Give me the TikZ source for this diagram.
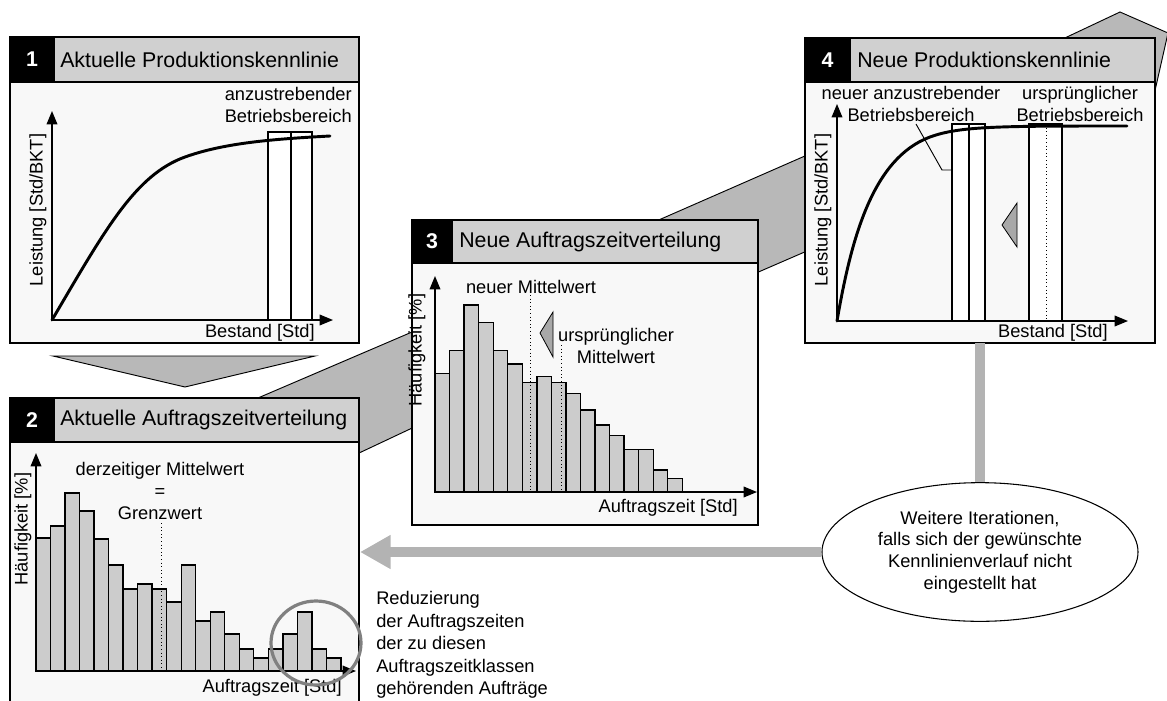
\documentclass[tikz,border=0pt]{standalone}
\usepackage{fontspec}
\setmainfont{Liberation Sans}
\usetikzlibrary{arrows.meta,shapes.geometric}

\definecolor{bodygray}{HTML}{F8F8F8}
\definecolor{headgray}{HTML}{D0D0D0}
\definecolor{bargray}{HTML}{CCCCCC}
\definecolor{bandgray}{HTML}{B8B8B8}
\definecolor{flowgray}{HTML}{B3B3B3}
\definecolor{markgray}{HTML}{A8A8A8}
\definecolor{ringgray}{HTML}{808080}

\begin{document}
\begin{tikzpicture}[x=0.75pt,y=-0.75pt,
  panelbody/.style={draw=black,line width=1.1pt,fill=bodygray},
  header/.style={draw=black,line width=1.1pt,fill=headgray},
  numbox/.style={draw=black,line width=1.1pt,fill=black},
  numtext/.style={text=white,inner sep=0pt,font=\fontsize{16}{18}\selectfont\bfseries},
  titletext/.style={anchor=west,inner sep=0pt,font=\fontsize{16}{18}\selectfont},
  lbl/.style={inner sep=0pt,font=\fontsize{13.7}{16.5}\selectfont},
  axis/.style={line width=1pt,-{Triangle[length=10pt,width=8pt]}},
  bar/.style={draw=black,line width=1pt,fill=bargray},
  curve/.style={line width=2.2pt,line cap=round},
  opbox/.style={draw=black,line width=0.8pt,fill=white},
  meanline/.style={dotted,line width=0.7pt},
  band/.style={draw=black,line width=0.7pt,fill=bandgray},
  shiftmark/.style={draw=black,line width=0.6pt,fill=markgray},
  flow/.style={draw=flowgray,line width=7pt},
]
\useasboundingbox (0,0) rectangle (1167,700);

% ---- broad connector bands (behind the panels) ----
\draw[band] (250,401.4) -- (430,324.3) -- (430,419.6) -- (340,462) -- cycle;
\draw[band] (645,226) -- (830,145) -- (830,241) -- (740,280) -- cycle;
\draw[band] (1050,45) -- (1120,12) -- (1168,33) -- (1154,95) -- cycle;
\draw[band] (53,356) -- (315,356) -- (185,387) -- cycle;

% ---- panel 1: current production characteristic ----
\draw[panelbody] (10,82) rectangle (359,343);
\draw[header] (10,37) rectangle (359,82);
\draw[numbox] (10,37) rectangle (54,82);
\node[numtext] (n1) at (32,59.5) {1};
\node[titletext] (t1) at (60,59.5) {Aktuelle Produktionskennlinie};

\draw[opbox] (268,132) rectangle (291,320);
\draw[opbox] (291,132) rectangle (312,320);
\coordinate (o1) at (52,320);
\coordinate (y1) at (52,111);
\coordinate (x1) at (333,320);
\draw[axis] (o1) -- (y1);
\draw[axis] (o1) -- (x1);
\draw[curve] (o1) .. controls (105,230) and (135,175) .. (185,157)
                  .. controls (225,142.6) and (275,139) .. (330,136);
\node[lbl,rotate=90] (yl1) at (38,210) {Leistung [Std/BKT]};
\node[lbl,anchor=east] (xl1) at (315,333) {Bestand [Std]};
\node[lbl,anchor=east,align=right] (r1) at (352,105) {anzustrebender\\Betriebsbereich};

% ---- panel 2: current order time distribution ----
\draw[panelbody] (10,442) rectangle (359,706);
\draw[header] (10,398) rectangle (359,442);
\draw[numbox] (10,398) rectangle (54,442);
\node[numtext] (n2) at (32,420) {2};
\node[titletext] (t2) at (60,420) {Aktuelle Auftragszeitverteilung};

\foreach \t [count=\i from 0] in {538,526,493,511,539,565,589,584,589,602,565,621,612,634,649,658,649,634,612,649,658}
  \draw[bar] ({36+\i*14.52},671) rectangle ({36+(\i+1)*14.52},\t);
\coordinate (o2) at (36,671);
\coordinate (y2) at (36,453);
\coordinate (x2) at (356,671);
\draw[axis] (o2) -- (y2);
\draw[axis] (o2) -- (x2);
\draw[meanline] (161,523) -- (161,671);
\node[lbl,align=center] (m2) at (160,491) {derzeitiger Mittelwert\\=\\Grenzwert};
\node[lbl,rotate=90] (yl2) at (23,529) {Häufigkeit [\%]};
\node[lbl,anchor=east] (xl2) at (342,688) {Auftragszeit [Std]};
\draw[draw=ringgray,line width=2.4pt] (316,643) ellipse [x radius=45,y radius=42];

% ---- panel 3: new order time distribution ----
\draw[panelbody] (412,263) rectangle (758,525);
\draw[header] (412,220) rectangle (758,263);
\draw[numbox] (412,220) rectangle (452,263);
\node[numtext] (n3) at (432,241.5) {3};
\node[titletext] (t3) at (459,241.5) {Neue Auftragszeitverteilung};

\foreach \t [count=\i from 0] in {373.3,350.7,305,322.7,350.7,364,382.3,376.7,382.3,393.3,410,425,435.3,449.3,449.3,470,478.3}
  \draw[bar] ({435+\i*14.55},492) rectangle ({435+(\i+1)*14.55},\t);
\coordinate (o3) at (435,492);
\coordinate (y3) at (435,276);
\coordinate (x3) at (757,492);
\draw[axis] (o3) -- (y3);
\draw[axis] (o3) -- (x3);
\draw[meanline] (530.7,295) -- (530.7,492);
\draw[meanline] (561,345) -- (561,492);
\draw[shiftmark] (540,333) -- (553,312) -- (553,357) -- cycle;
\node[lbl] (m3) at (531,287) {neuer Mittelwert};
\node[lbl,align=center] (u3) at (616,346) {ursprünglicher\\Mittelwert};
\node[lbl,rotate=90] (yl3) at (417,350) {Häufigkeit [\%]};
\node[lbl,anchor=east] (xl3) at (738,508) {Auftragszeit [Std]};

% ---- panel 4: new production characteristic ----
\draw[panelbody] (805,82) rectangle (1155,343);
\draw[header] (805,38) rectangle (1155,82);
\draw[numbox] (805,38) rectangle (850,82);
\node[numtext] (n4) at (827.5,60) {4};
\node[titletext] (t4) at (857,60) {Neue Produktionskennlinie};

\draw[opbox] (952,124) rectangle (969,321);
\draw[opbox] (969,124) rectangle (985,321);
\draw[opbox] (1029,124) rectangle (1062,321);
\draw[meanline] (1046,124) -- (1046,321);
\coordinate (o4) at (837,321);
\coordinate (y4) at (837,104);
\coordinate (x4) at (1128,321);
\draw[axis] (o4) -- (y4);
\draw[axis] (o4) -- (x4);
\draw[curve] (o4) .. controls (851,240) and (872,158.5) .. (930,137)
                  .. controls (960,126) and (1000,126) .. (1127,126);
\draw[shiftmark] (1002,225) -- (1017,203) -- (1017,247) -- cycle;
\node[lbl,align=center] (r4n) at (911,104) {neuer anzustrebender\\Betriebsbereich};
\node[lbl,align=center] (r4u) at (1080,104) {ursprünglicher\\Betriebsbereich};
\coordinate (c4a) at (916,124);
\coordinate (c4b) at (942,170);
\coordinate (c4c) at (952,170);
\draw[line width=0.7pt] (c4a) -- (c4b) -- (c4c);
\node[lbl,rotate=90] (yl4) at (823,210) {Leistung [Std/BKT]};
\node[lbl,anchor=east] (xl4) at (1108,333) {Bestand [Std]};

% ---- iteration loop ----
\coordinate (p4s) at (980,343);
\coordinate (p2e) at (360,552);
\draw[flow] (p4s) -- (980,484);
\node[ellipse,draw=black,line width=0.8pt,fill=white,inner sep=0pt,
      minimum width=237pt,minimum height=104pt,align=center,
      font=\fontsize{13.7}{16.3}\selectfont] (iter) at (980,552)
  {Weitere Iterationen,\\falls sich der gewünschte\\Kennlinienverlauf nicht\\eingestellt hat};
\draw[flow,-{Triangle[length=23pt,width=24pt]}] (iter.west) -- (p2e);

\node[lbl,anchor=west,align=left,font=\fontsize{13.7}{16.9}\selectfont] (note) at (376,645)
  {Reduzierung\\der Auftragszeiten\\der zu diesen\\Auftragszeitklassen\\gehörenden Aufträge};
\end{tikzpicture}
\end{document}
